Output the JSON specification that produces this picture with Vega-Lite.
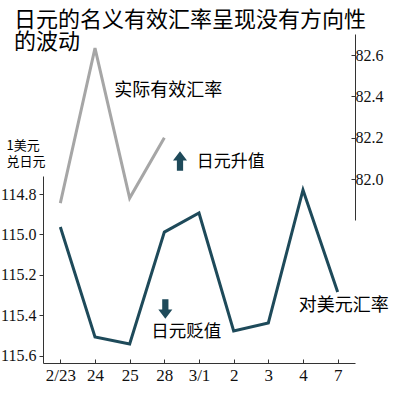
{
  "$schema": "https://vega.github.io/schema/vega-lite/v6.json",
  "width": 312,
  "height": 329,
  "autosize": {"type": "none"},
  "padding": {"left": 43, "top": 34, "right": 45, "bottom": 30},
  "background": "white",
  "config": {
    "view": {"stroke": null},
    "font": "Noto Sans CJK SC",
    "axis": {"labelFont": "Liberation Sans Narrow", "labelFontSize": 16, "labelColor": "#111", "domainColor": "#333", "tickColor": "#333", "grid": false}
  },
  "title": {
    "text": ["日元的名义有效汇率呈现没有方向性", "的波动"],
    "font": "Noto Sans CJK SC",
    "fontSize": 22,
    "fontWeight": "normal",
    "color": "#000",
    "anchor": "start",
    "frame": "group",
    "orient": "top",
    "baseline": "top",
    "offset": 27,
    "dx": -29,
    "dy": 47,
    "lineHeight": 22
  },
  "datasets": {
    "usd": [
      {"date": "2/23", "v": 114.963},
      {"date": "24", "v": 115.506},
      {"date": "25", "v": 115.541},
      {"date": "28", "v": 114.988},
      {"date": "3/1", "v": 114.894},
      {"date": "2", "v": 115.477},
      {"date": "3", "v": 115.437},
      {"date": "4", "v": 114.78},
      {"date": "7", "v": 115.284}
    ],
    "reer": [
      {"date": "2/23", "r": 81.884},
      {"date": "24", "r": 82.634},
      {"date": "25", "r": 81.908},
      {"date": "28", "r": 82.2}
    ]
  },
  "encoding": {
    "x": {
      "field": "date",
      "type": "ordinal",
      "sort": null,
      "scale": {"type": "point", "padding": 0.5, "domain": ["2/23", "24", "25", "28", "3/1", "2", "3", "4", "7"]},
      "axis": {"title": null, "labelAngle": 0, "tickSize": -4, "labelPadding": 8, "labelFontSize": 17}
    }
  },
  "layer": [
    {
      "encoding": {
        "y": {
          "field": "v",
          "type": "quantitative",
          "scale": {"domain": [114.711, 115.635], "range": [142, 329], "nice": false, "zero": false},
          "axis": {
            "orient": "left",
            "values": [114.8, 115.0, 115.2, 115.4, 115.6],
            "format": ".1f",
            "tickSize": 4,
            "labelPadding": 3,
            "title": ["1美元", "兑日元"],
            "titleFont": "Noto Sans CJK SC",
            "titleFontSize": 13,
            "titleFontWeight": "normal",
            "titleColor": "#000",
            "titleAngle": 0,
            "titleAlign": "left",
            "titleBaseline": "top",
            "titleX": -37,
            "titleY": 105,
            "titleLineHeight": 16
          }
        }
      },
      "layer": [
        {
          "data": {"name": "usd"},
          "mark": {"type": "line", "color": "#1e4a5a", "strokeWidth": 3, "strokeJoin": "miter"}
        },
        {
          "data": {"values": [{"date": "3/1", "v": 114.637}]},
          "mark": {"type": "point", "filled": true, "color": "#1e4a5a", "size": 380, "opacity": 1, "xOffset": -19,
                   "shape": "M0,-1L0.72,-0.05L0.32,-0.05L0.32,1L-0.32,1L-0.32,-0.05L-0.72,-0.05Z"}
        },
        {
          "data": {"values": [{"date": "28", "v": 115.368}]},
          "mark": {"type": "point", "filled": true, "color": "#1e4a5a", "size": 380, "opacity": 1, "xOffset": 1,
                   "shape": "M0,1L0.72,0.05L0.32,0.05L0.32,-1L-0.32,-1L-0.32,0.05L-0.72,0.05Z"}
        },
        {
          "data": {"values": [{"date": "2", "v": 114.642, "label": "日元升值"}]},
          "mark": {"type": "text", "fontSize": 17, "font": "Noto Sans CJK SC", "color": "#000", "align": "center", "baseline": "middle", "dx": -3},
          "encoding": {"text": {"field": "label"}}
        },
        {
          "data": {"values": [{"date": "28", "v": 115.481, "label": "日元贬值"}]},
          "mark": {"type": "text", "fontSize": 17.5, "font": "Noto Sans CJK SC", "color": "#000", "align": "center", "baseline": "middle", "dx": 22},
          "encoding": {"text": {"field": "label"}}
        },
        {
          "data": {"values": [{"date": "7", "v": 115.353, "label": "对美元汇率"}]},
          "mark": {"type": "text", "fontSize": 18, "font": "Noto Sans CJK SC", "color": "#000", "align": "center", "baseline": "middle", "dx": 6},
          "encoding": {"text": {"field": "label"}}
        }
      ]
    },
    {
      "encoding": {
        "y": {
          "field": "r",
          "type": "quantitative",
          "scale": {"domain": [81.802, 82.702], "range": [186, 0], "nice": false, "zero": false},
          "axis": {
            "orient": "right",
            "values": [82.0, 82.2, 82.4, 82.6],
            "format": ".1f",
            "tickSize": -4,
            "labelPadding": 4,
            "title": null
          }
        }
      },
      "layer": [
        {
          "data": {"name": "reer"},
          "mark": {"type": "line", "color": "#a6a6a6", "strokeWidth": 3, "strokeJoin": "miter"}
        },
        {
          "data": {"values": [{"date": "28", "r": 82.426, "label": "实际有效汇率"}]},
          "mark": {"type": "text", "fontSize": 18, "font": "Noto Sans CJK SC", "color": "#000", "align": "center", "baseline": "middle", "dx": 4},
          "encoding": {"text": {"field": "label"}}
        }
      ]
    }
  ],
  "resolve": {"scale": {"y": "independent"}, "axis": {"y": "independent"}}
}
